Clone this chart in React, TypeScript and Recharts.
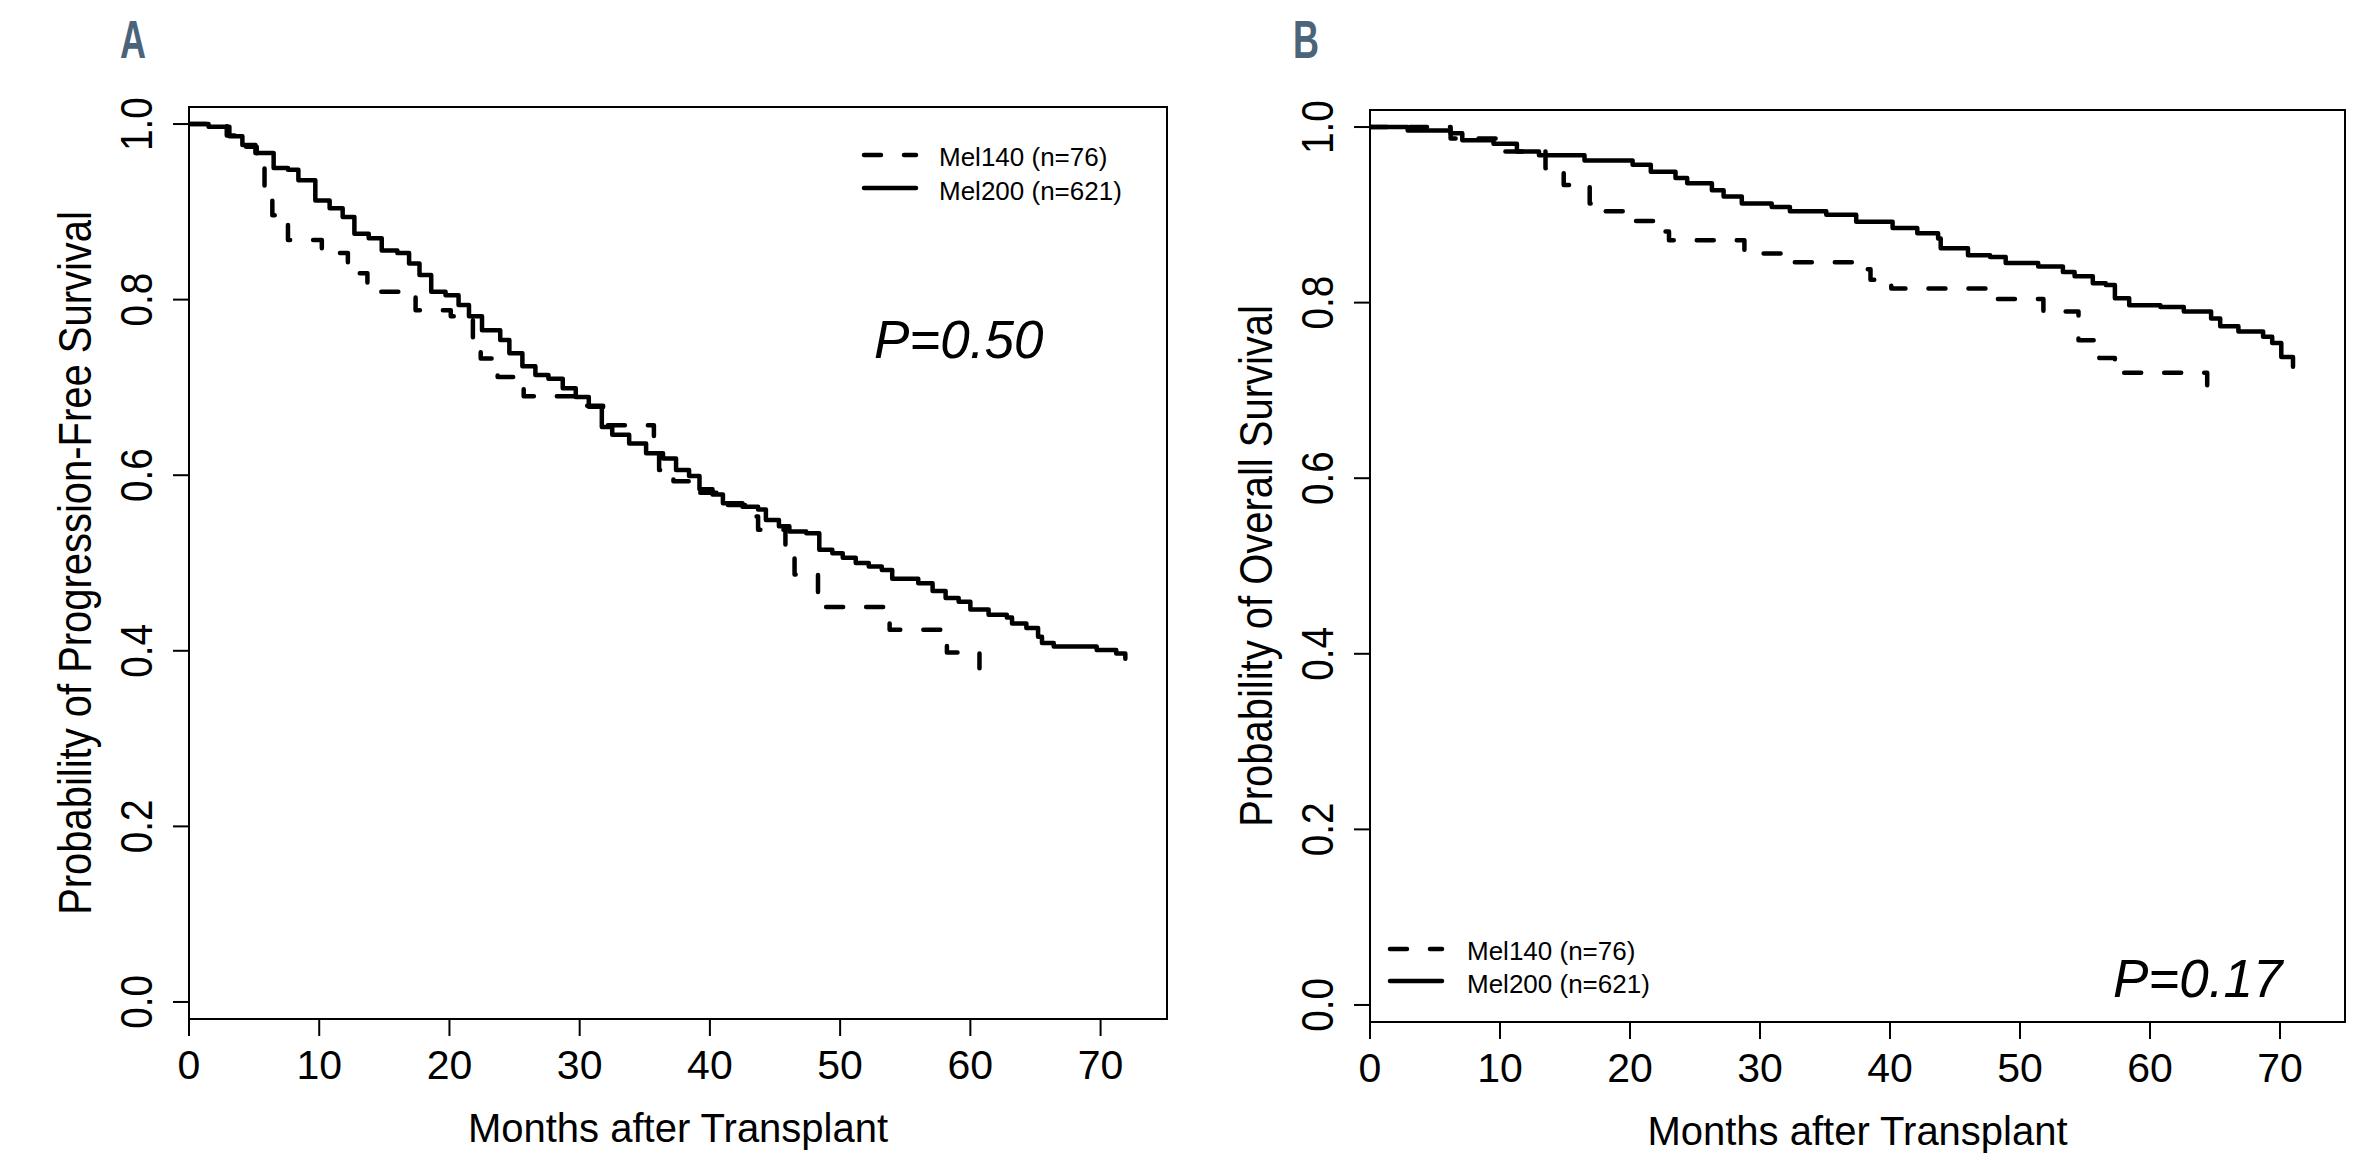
import React from 'react';
import { LineChart, Line, XAxis, YAxis, ReferenceArea, ReferenceDot, Label, Legend } from 'recharts';

const FONT = '"Liberation Sans", Arial, Helvetica, sans-serif';

// ---- axis ticks / labels ----
const monthTicks = [0, 10, 20, 30, 40, 50, 60, 70];
const probTicks = [0, 0.2, 0.4, 0.6, 0.8, 1.0];
const seriesNames = ['Mel140 (n=76)', 'Mel200 (n=621)'];
const xTitle = 'Months after Transplant';
const panelLetters = ['A', 'B'];
const yTitles = ['Probability of Progression-Free Survival', 'Probability of Overall Survival'];
const pValues = ['P=0.50', 'P=0.17'];

// ---- Panel A: progression-free survival ----
const pfsMel140Months = [0, 2.9, 4.0, 5.2, 5.8, 6.4, 7.6, 10.2, 12.2, 13.7, 17.4, 20.1, 21.8, 22.4, 23.7, 25.7, 30.0, 31.8, 35.7, 36.1, 37.2, 38.5, 40.5, 43.0, 43.7, 45.8, 46.5, 48.3, 53.8, 58.2, 60.7];
const pfsMel140Prob = [1.0, 0.987, 0.974, 0.95, 0.922, 0.896, 0.868, 0.853, 0.83, 0.809, 0.788, 0.781, 0.755, 0.733, 0.712, 0.69, 0.679, 0.657, 0.629, 0.606, 0.593, 0.58, 0.566, 0.553, 0.538, 0.515, 0.487, 0.45, 0.424, 0.398, 0.38];
const pfsMel200Months = [0, 1.5, 3.1, 4.1, 5.1, 6.5, 7.6, 8.4, 9.7, 10.8, 11.8, 12.7, 13.8, 14.8, 16.0, 16.9, 17.7, 18.6, 19.7, 20.7, 21.5, 22.5, 23.9, 24.6, 25.6, 26.6, 27.6, 28.7, 29.7, 30.7, 31.7, 32.5, 33.8, 35.1, 36.4, 37.4, 38.4, 39.2, 40.2, 41.0, 42.5, 43.7, 44.3, 45.3, 46.1, 47.4, 48.4, 49.4, 50.2, 51.2, 52.2, 53.2, 54.0, 56.0, 57.1, 58.1, 59.1, 60.0, 61.4, 62.8, 63.2, 64.3, 65.2, 65.5, 66.4, 69.7, 71.2, 71.9];
const pfsMel200Prob = [1.0, 0.997, 0.986, 0.976, 0.967, 0.95, 0.948, 0.936, 0.913, 0.904, 0.894, 0.875, 0.87, 0.856, 0.853, 0.841, 0.828, 0.809, 0.805, 0.794, 0.781, 0.765, 0.754, 0.739, 0.724, 0.714, 0.71, 0.699, 0.689, 0.678, 0.655, 0.646, 0.636, 0.625, 0.619, 0.606, 0.599, 0.584, 0.578, 0.568, 0.564, 0.561, 0.549, 0.542, 0.536, 0.534, 0.515, 0.511, 0.506, 0.5, 0.496, 0.492, 0.482, 0.477, 0.468, 0.46, 0.456, 0.447, 0.441, 0.438, 0.431, 0.426, 0.416, 0.409, 0.405, 0.401, 0.397, 0.391];

// ---- Panel B: overall survival ----
const osMel140Months = [0, 6.2, 10.0, 13.5, 14.9, 16.9, 17.8, 20.3, 22.2, 23.0, 28.8, 31.8, 37.5, 38.5, 40.1, 47.7, 51.8, 54.5, 56.1, 57.3, 64.4];
const osMel140Prob = [1.0, 0.987, 0.972, 0.953, 0.934, 0.913, 0.904, 0.893, 0.881, 0.871, 0.856, 0.846, 0.838, 0.826, 0.816, 0.804, 0.79, 0.757, 0.737, 0.72, 0.706];
const osMel200Months = [0, 2.9, 6.2, 7.1, 9.5, 11.3, 13.0, 16.5, 20.2, 21.6, 23.5, 24.4, 26.3, 27.2, 28.6, 30.9, 32.3, 35.1, 37.4, 40.2, 42.1, 43.7, 43.9, 46.0, 47.7, 48.9, 51.4, 53.3, 54.2, 55.6, 56.6, 57.3, 58.4, 60.8, 62.6, 64.7, 65.4, 66.8, 68.7, 69.4, 70.1, 71.0];
const osMel200Prob = [1.0, 0.996, 0.993, 0.985, 0.981, 0.972, 0.968, 0.962, 0.957, 0.949, 0.942, 0.936, 0.928, 0.921, 0.913, 0.909, 0.904, 0.9, 0.892, 0.885, 0.879, 0.873, 0.862, 0.854, 0.852, 0.845, 0.841, 0.835, 0.83, 0.822, 0.82, 0.805, 0.797, 0.795, 0.79, 0.782, 0.773, 0.767, 0.761, 0.754, 0.738, 0.727];

const toPoints = (months: number[], probs: number[]) => months.map((m, i) => ({ m, p: probs[i] }));

const Y_MIN = -0.0194;
const Y_MAX = 1.0194;
const DASH = '17 23';
const LINE_W = 4.5;

const XTick = (props: any) => {
  const { x, y, payload } = props;
  return (
    <text x={x} y={y} dy={30} textAnchor="middle" fontFamily={FONT} fontSize={41} fill="#000">
      {payload.value}
    </text>
  );
};

const YTick = (props: any) => {
  const { x, y, payload } = props;
  return (
    <text
      transform={`translate(${x},${y}) rotate(-90) scale(0.88,1)`}
      x={0}
      y={0}
      textAnchor="middle"
      fontFamily={FONT}
      fontSize={44}
      fill="#000"
    >
      {Number(payload.value).toFixed(1)}
    </text>
  );
};

const makeXTitle = () => (props: any) => {
  const vb = props.viewBox || { x: 0, y: 0, width: 0 };
  return (
    <text x={vb.x + vb.width / 2} y={vb.y + 123} textAnchor="middle" fontFamily={FONT} fontSize={40} fill="#000">
      {xTitle}
    </text>
  );
};

const makeYTitle = (title: string) => (props: any) => {
  const vb = props.viewBox || { x: 0, y: 0, width: 0, height: 0 };
  const bx = vb.x + vb.width - 98;
  const cy = vb.y + vb.height / 2;
  return (
    <text
      transform={`translate(${bx},${cy}) rotate(-90) scale(0.85,1)`}
      x={0}
      y={0}
      textAnchor="middle"
      fontFamily={FONT}
      fontSize={47}
      fill="#000"
    >
      {title}
    </text>
  );
};

const makePText = (txt: string) => (props: any) => {
  const vb = props.viewBox || { x: 0, y: 0 };
  return (
    <text x={vb.x} y={vb.y} fontFamily={FONT} fontStyle="italic" fontSize={53} fill="#000">
      {txt}
    </text>
  );
};

const makeLegend = (textX: number, gap: number) => () => (
  <svg width={340} height={80} style={{ overflow: 'visible', display: 'block' }}>
    <line x1={4} y1={15} x2={56} y2={15} stroke="#000" strokeWidth={LINE_W} strokeDasharray={DASH} strokeLinecap="round" />
    <text x={textX} y={26} fontFamily={FONT} fontSize={26} fill="#000">{seriesNames[0]}</text>
    <line x1={4} y1={15 + gap} x2={56} y2={15 + gap} stroke="#000" strokeWidth={LINE_W} strokeLinecap="round" />
    <text x={textX} y={26 + gap + 1} fontFamily={FONT} fontSize={26} fill="#000">{seriesNames[1]}</text>
  </svg>
);

type PanelCfg = {
  left: number;
  width: number;
  margin: { top: number; right: number; bottom: number; left: number };
  xMax: number;
  yTitle: string;
  pValue: string;
  pAt: [number, number];
  legendPos: { left: number; top: number };
  legendTextX: number;
  legendGap: number;
  dashed: { m: number; p: number }[];
  solid: { m: number; p: number }[];
};

const panels: PanelCfg[] = [
  {
    left: 0,
    width: 1189,
    margin: { top: 107, right: 22, bottom: 52, left: 89 },
    xMax: 75.1,
    yTitle: yTitles[0],
    pValue: pValues[0],
    pAt: [52.6, 0.7335],
    legendPos: { left: 860, top: 140 },
    legendTextX: 79,
    legendGap: 33,
    dashed: toPoints(pfsMel140Months, pfsMel140Prob),
    solid: toPoints(pfsMel200Months, pfsMel200Prob),
  },
  {
    left: 1189,
    width: 1189,
    margin: { top: 110, right: 33, bottom: 49, left: 81 },
    xMax: 75,
    yTitle: yTitles[1],
    pValue: pValues[1],
    pAt: [57.15, 0.0091],
    legendPos: { left: 197, top: 934 },
    legendTextX: 81,
    legendGap: 32,
    dashed: toPoints(osMel140Months, osMel140Prob),
    solid: toPoints(osMel200Months, osMel200Prob),
  },
];

const Panel = ({ cfg }: { cfg: PanelCfg }) => (
  <div style={{ position: 'absolute', left: cfg.left, top: 0 }}>
    <LineChart width={cfg.width} height={1171} margin={cfg.margin}>
      <XAxis
        dataKey="m"
        type="number"
        domain={[0, cfg.xMax]}
        ticks={monthTicks}
        allowDataOverflow
        interval={0}
        axisLine={false}
        tickLine={{ stroke: '#000', strokeWidth: 2 }}
        tickSize={17}
        tickMargin={13}
        height={100}
        tick={<XTick />}
      >
        <Label content={makeXTitle()} />
      </XAxis>
      <YAxis
        type="number"
        domain={[Y_MIN, Y_MAX]}
        ticks={probTicks}
        allowDataOverflow
        interval={0}
        axisLine={false}
        tickLine={{ stroke: '#000', strokeWidth: 2 }}
        tickSize={16}
        tickMargin={21}
        width={100}
        tick={<YTick />}
      >
        <Label content={makeYTitle(cfg.yTitle)} />
      </YAxis>
      <ReferenceArea
        x1={0}
        x2={cfg.xMax}
        y1={Y_MIN}
        y2={Y_MAX}
        fill="none"
        fillOpacity={0}
        stroke="#000"
        strokeWidth={2}
        ifOverflow="visible"
      />
      <Line
        data={cfg.dashed}
        dataKey="p"
        name={seriesNames[0]}
        type="stepAfter"
        stroke="#000"
        strokeWidth={LINE_W}
        strokeDasharray={DASH}
        strokeLinecap="round"
        strokeLinejoin="round"
        dot={false}
        activeDot={false}
        isAnimationActive={false}
      />
      <Line
        data={cfg.solid}
        dataKey="p"
        name={seriesNames[1]}
        type="stepAfter"
        stroke="#000"
        strokeWidth={LINE_W}
        strokeLinecap="round"
        strokeLinejoin="round"
        dot={false}
        activeDot={false}
        isAnimationActive={false}
      />
      <ReferenceDot
        x={cfg.pAt[0]}
        y={cfg.pAt[1]}
        r={0}
        fill="none"
        stroke="none"
        label={<Label content={makePText(cfg.pValue)} />}
      />
      <Legend
        layout="vertical"
        align="center"
        verticalAlign="middle"
        wrapperStyle={{ left: cfg.legendPos.left, top: cfg.legendPos.top, width: 340, height: 80 }}
        content={makeLegend(cfg.legendTextX, cfg.legendGap)}
      />
    </LineChart>
  </div>
);

export default function App() {
  return (
    <div style={{ position: 'absolute', left: 0, top: 0, width: 2378, height: 1171, background: '#fff', overflow: 'hidden' }}>
      <svg width={2378} height={1171} style={{ position: 'absolute', left: 0, top: 0 }}>
        <text transform="translate(120,58) scale(0.68,1)" fontFamily={FONT} fontWeight="bold" fontSize={53} fill="#4b6479">
          {panelLetters[0]}
        </text>
        <text transform="translate(1293,58) scale(0.68,1)" fontFamily={FONT} fontWeight="bold" fontSize={53} fill="#4b6479">
          {panelLetters[1]}
        </text>
      </svg>
      {panels.map((cfg, i) => (
        <Panel key={i} cfg={cfg} />
      ))}
    </div>
  );
}
